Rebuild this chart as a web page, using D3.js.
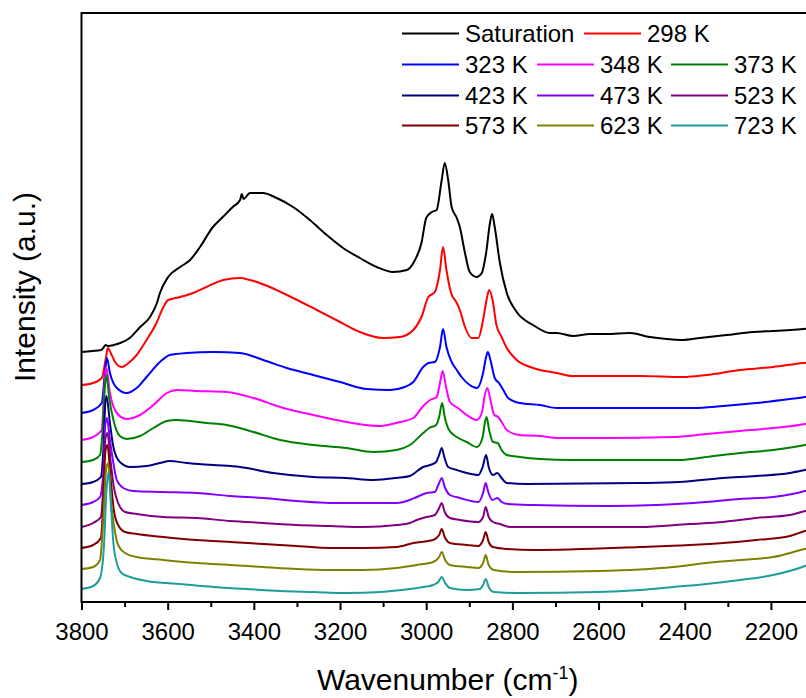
<!DOCTYPE html>
<html>
<head>
<meta charset="utf-8">
<script src="https://cdn.jsdelivr.net/npm/d3@7"></script>
<style>
  body { margin: 0; background: #fff; }
  svg { display: block; font-family: Arial, "Liberation Sans", sans-serif; }
</style>
</head>
<body>
<div id="chart"></div>
<script>
/** Tick labels of the wavenumber axis (cm-1) */
var wavenumberTicks = [3800, 3600, 3400, 3200, 3000, 2800, 2600, 2400, 2200];
var wavenumberMinorTicks = [3700, 3500, 3300, 3100, 2900, 2700, 2500, 2300, 2100];

/** Series labels, in plotting order */
var seriesNames = ["Saturation", "298 K", "323 K", "348 K", "373 K", "423 K",
                   "473 K", "523 K", "573 K", "623 K", "723 K"];

/** Spectra, [wavenumber, intensity (a.u., stacked)] */
var saturation = [[3800,2.50],[3775,2.51],[3755,2.52],[3748,2.55],[3744,2.57],[3738,2.56],[3725,2.57],
  [3710,2.59],[3688,2.64],[3664,2.75],[3641,2.85],[3625,2.99],[3618,3.09],[3599,3.25],[3571,3.35],
  [3548,3.42],[3525,3.55],[3495,3.75],[3472,3.85],[3449,3.95],[3432,4.02],[3428,4.08],[3424,4.03],
  [3409,4.09],[3394,4.09],[3379,4.09],[3347,4.04],[3309,3.95],[3270,3.82],[3231,3.67],[3193,3.54],
  [3154,3.44],[3115,3.35],[3077,3.30],[3045,3.32],[3026,3.42],[3011,3.59],[3000,3.84],[2987,3.90],
  [2976,3.92],[2964,4.22],[2957,4.39],[2949,4.22],[2941,3.95],[2929,3.84],[2922,3.75],[2910,3.49],
  [2899,3.30],[2883,3.25],[2871,3.29],[2861,3.49],[2852,3.79],[2847,3.88],[2841,3.75],[2829,3.39],
  [2813,3.09],[2790,2.90],[2752,2.77],[2713,2.69],[2697,2.69],[2659,2.66],[2620,2.68],[2581,2.68],
  [2527,2.69],[2481,2.65],[2442,2.63],[2404,2.62],[2365,2.64],[2303,2.67],[2241,2.70],[2195,2.71],
  [2125,2.73],[2100,2.74]];

var k298 = [[3800,2.17],[3773,2.19],[3753,2.24],[3743,2.45],[3739,2.54],[3730,2.47],[3722,2.40],
  [3707,2.35],[3691,2.39],[3672,2.47],[3649,2.62],[3626,2.79],[3610,2.95],[3599,3.02],[3571,3.05],
  [3541,3.09],[3510,3.15],[3471,3.22],[3432,3.24],[3409,3.22],[3363,3.15],[3309,3.04],[3254,2.92],
  [3200,2.80],[3154,2.70],[3100,2.64],[3061,2.65],[3030,2.72],[3011,2.85],[2995,3.05],[2980,3.10],
  [2968,3.32],[2961,3.55],[2953,3.32],[2943,3.10],[2929,2.99],[2922,2.92],[2910,2.75],[2895,2.64],
  [2879,2.64],[2868,2.82],[2860,3.02],[2854,3.12],[2846,3.02],[2837,2.77],[2825,2.65],[2813,2.54],
  [2790,2.42],[2752,2.34],[2697,2.29],[2659,2.26],[2504,2.26],[2404,2.25],[2350,2.27],[2272,2.32],
  [2195,2.35],[2125,2.39],[2100,2.40]];

var k323 = [[3800,1.89],[3773,1.92],[3753,1.99],[3745,2.32],[3741,2.44],[3734,2.29],[3718,2.14],
  [3695,2.09],[3672,2.14],[3649,2.25],[3618,2.40],[3595,2.47],[3556,2.49],[3494,2.50],[3432,2.49],
  [3378,2.42],[3324,2.34],[3262,2.27],[3200,2.20],[3138,2.13],[3084,2.12],[3050,2.15],[3030,2.20],
  [3007,2.35],[2995,2.39],[2980,2.40],[2968,2.55],[2961,2.73],[2953,2.55],[2941,2.40],[2929,2.32],
  [2918,2.25],[2899,2.17],[2882,2.14],[2868,2.29],[2861,2.45],[2857,2.50],[2851,2.42],[2841,2.24],
  [2831,2.19],[2821,2.12],[2810,2.04],[2783,1.99],[2736,1.97],[2697,1.94],[2581,1.94],[2381,1.94],
  [2311,1.96],[2234,1.99],[2156,2.03],[2121,2.05],[2100,2.07]];

var k348 = [[3800,1.62],[3773,1.65],[3753,1.72],[3748,2.05],[3743,2.35],[3734,2.09],[3718,1.89],
  [3695,1.83],[3664,1.87],[3633,1.97],[3602,2.09],[3579,2.12],[3533,2.11],[3463,2.10],[3401,2.04],
  [3339,1.95],[3262,1.87],[3185,1.80],[3107,1.76],[3061,1.80],[3030,1.84],[3007,1.96],[2991,2.02],
  [2976,2.05],[2968,2.19],[2962,2.31],[2954,2.15],[2945,2.00],[2926,1.94],[2906,1.87],[2883,1.82],
  [2871,1.89],[2864,2.07],[2858,2.14],[2851,2.02],[2842,1.87],[2833,1.85],[2825,1.80],[2813,1.72],
  [2783,1.67],[2736,1.66],[2690,1.64],[2581,1.64],[2427,1.65],[2350,1.68],[2272,1.71],[2195,1.74],
  [2121,1.78],[2100,1.80]];

var k373 = [[3800,1.40],[3773,1.42],[3757,1.47],[3751,1.72],[3745,2.19],[3742,2.27],[3736,2.05],
  [3726,1.82],[3711,1.66],[3695,1.63],[3664,1.66],[3633,1.74],[3602,1.81],[3579,1.82],[3510,1.79],
  [3463,1.77],[3401,1.70],[3339,1.62],[3262,1.57],[3185,1.54],[3123,1.50],[3069,1.52],[3038,1.57],
  [3007,1.69],[2993,1.74],[2977,1.77],[2970,1.85],[2963,1.99],[2957,1.85],[2947,1.72],[2929,1.65],
  [2906,1.60],[2882,1.55],[2869,1.65],[2864,1.79],[2860,1.85],[2854,1.72],[2845,1.60],[2834,1.59],
  [2825,1.52],[2813,1.47],[2783,1.45],[2736,1.43],[2659,1.42],[2413,1.42],[2350,1.45],[2272,1.49],
  [2195,1.52],[2121,1.57],[2100,1.59]];

var k423 = [[3800,1.18],[3773,1.20],[3755,1.25],[3749,1.55],[3745,1.97],[3742,2.06],[3734,1.79],
  [3726,1.55],[3711,1.40],[3687,1.35],[3649,1.36],[3618,1.39],[3595,1.41],[3556,1.39],[3494,1.37],
  [3432,1.35],[3355,1.29],[3262,1.25],[3185,1.24],[3123,1.22],[3069,1.24],[3038,1.26],[3007,1.35],
  [2991,1.37],[2977,1.40],[2970,1.47],[2964,1.54],[2958,1.45],[2949,1.35],[2929,1.32],[2906,1.29],
  [2879,1.27],[2869,1.35],[2861,1.47],[2855,1.35],[2845,1.27],[2835,1.29],[2825,1.24],[2813,1.19],
  [2767,1.18],[2504,1.19],[2413,1.20],[2311,1.24],[2234,1.26],[2156,1.29],[2121,1.32],[2100,1.34]];

var k473 = [[3800,0.97],[3773,1.00],[3757,1.05],[3749,1.32],[3745,1.77],[3741,1.84],[3734,1.62],
  [3726,1.39],[3718,1.22],[3703,1.14],[3680,1.11],[3610,1.10],[3533,1.09],[3455,1.06],[3378,1.04],
  [3301,1.01],[3223,0.99],[3146,0.99],[3069,0.99],[3038,1.02],[3022,1.05],[2999,1.09],[2980,1.10],
  [2970,1.19],[2964,1.24],[2957,1.15],[2945,1.07],[2922,1.04],[2879,1.00],[2868,1.09],[2862,1.19],
  [2856,1.10],[2846,1.02],[2835,1.04],[2825,1.00],[2810,0.98],[2752,0.97],[2581,0.96],[2466,0.97],
  [2350,1.00],[2272,1.03],[2195,1.05],[2121,1.11],[2100,1.14]];

var k523 = [[3800,0.75],[3773,0.79],[3755,0.85],[3749,1.19],[3745,1.62],[3740,1.69],[3732,1.39],
  [3725,1.15],[3715,0.99],[3699,0.90],[3672,0.88],[3610,0.85],[3533,0.84],[3455,0.81],[3378,0.79],
  [3301,0.77],[3223,0.76],[3146,0.75],[3069,0.77],[3038,0.79],[3022,0.82],[2999,0.85],[2980,0.87],
  [2970,0.94],[2964,0.99],[2957,0.90],[2945,0.84],[2922,0.82],[2879,0.80],[2868,0.85],[2862,0.95],
  [2855,0.85],[2845,0.80],[2829,0.78],[2806,0.75],[2752,0.75],[2504,0.75],[2389,0.78],[2311,0.80],
  [2234,0.84],[2156,0.87],[2121,0.91],[2100,0.93]];

var k573 = [[3800,0.54],[3773,0.57],[3755,0.64],[3749,1.05],[3745,1.49],[3740,1.57],[3732,1.22],
  [3725,0.92],[3715,0.77],[3699,0.70],[3672,0.68],[3610,0.65],[3533,0.62],[3455,0.60],[3378,0.58],
  [3301,0.56],[3223,0.54],[3146,0.54],[3069,0.55],[3030,0.59],[2984,0.62],[2970,0.67],[2964,0.73],
  [2957,0.65],[2945,0.59],[2906,0.57],[2879,0.56],[2868,0.62],[2862,0.70],[2855,0.60],[2845,0.55],
  [2813,0.53],[2752,0.52],[2504,0.55],[2389,0.57],[2311,0.59],[2234,0.62],[2156,0.66],[2121,0.71],
  [2100,0.73]];

var k623 = [[3800,0.33],[3773,0.35],[3757,0.42],[3749,0.85],[3743,1.32],[3738,1.39],[3731,0.99],
  [3723,0.72],[3715,0.57],[3699,0.49],[3672,0.45],[3610,0.42],[3533,0.39],[3455,0.37],[3378,0.35],
  [3301,0.33],[3223,0.32],[3146,0.32],[3069,0.34],[3022,0.37],[2984,0.40],[2970,0.45],[2964,0.50],
  [2956,0.42],[2945,0.37],[2906,0.35],[2879,0.34],[2868,0.39],[2862,0.47],[2855,0.37],[2843,0.32],
  [2790,0.30],[2600,0.31],[2427,0.35],[2350,0.39],[2272,0.42],[2195,0.45],[2121,0.53],[2100,0.55]];

var k723 = [[3800,0.13],[3773,0.16],[3757,0.24],[3748,0.55],[3742,1.12],[3737,1.30],[3731,0.92],
  [3726,0.59],[3718,0.39],[3707,0.29],[3687,0.25],[3649,0.21],[3571,0.18],[3494,0.15],[3417,0.13],
  [3339,0.11],[3262,0.10],[3185,0.09],[3107,0.10],[3038,0.13],[3000,0.155],[2984,0.17],[2972,0.20],
  [2964,0.25],[2956,0.19],[2945,0.14],[2906,0.12],[2875,0.13],[2868,0.17],[2862,0.23],[2855,0.15],
  [2843,0.10],[2790,0.09],[2600,0.10],[2504,0.12],[2427,0.15],[2350,0.18],[2272,0.22],[2195,0.27],
  [2121,0.36],[2100,0.40]];

var seriesValues = [saturation, k298, k323, k348, k373, k423, k473, k523, k573, k623, k723];

/** Line colours, same order as seriesNames */
var seriesColors = ["#000000", "#ff0000", "#0000ff", "#ff00ff", "#008000", "#000080",
                    "#8000ff", "#800080", "#800000", "#808000", "#1f9c9c"];

/** Legend rows, as indexes into seriesNames */
var legendRows = [[0, 1], [2, 3, 4], [5, 6, 7], [8, 9, 10]];

/**
 * @constructor
 * @param {String} HTMLelement Id of the element to build the chart in.
 */
var spectraChart = function(HTMLelement)
{
  this.parentElement = HTMLelement;
  this.width = 806;
  this.height = 698;
  /** Plot frame; right side runs past the picture edge */
  this.frame = {left: 81.5, top: 13, right: 814, bottom: 602};
  this.svg = this.x = this.y = undefined;
}

/**
 * @desc Creates svg and scales.
 */
spectraChart.prototype.create = function()
{
  this.svg = d3.select("#" + this.parentElement)
    .append("svg")
    .attr("width", this.width)
    .attr("height", this.height);
  this.x = d3.scaleLinear().domain([3800, 2100]).range([this.frame.left, this.frame.right]);
  this.y = d3.scaleLinear().domain([0, 5.89]).range([this.frame.bottom, this.frame.top]);
}

/**
 * @desc Draws frame, bottom axis and axis titles.
 */
spectraChart.prototype.drawAxes = function()
{
  var f = this.frame;
  this.svg.append("rect")
    .attr("x", f.left).attr("y", f.top)
    .attr("width", f.right - f.left).attr("height", f.bottom - f.top)
    .attr("fill", "none").attr("stroke", "#000").attr("stroke-width", 2);

  /** minor ticks */
  this.svg.append("g")
    .attr("transform", "translate(0," + f.bottom + ")")
    .call(d3.axisBottom(this.x).tickValues(wavenumberMinorTicks).tickSize(5).tickFormat(""))
    .call(function(g) { g.select(".domain").remove(); })
    .selectAll("line").attr("stroke-width", 2);

  /** major ticks with labels */
  var ax = this.svg.append("g")
    .attr("transform", "translate(0," + f.bottom + ")")
    .call(d3.axisBottom(this.x).tickValues(wavenumberTicks).tickSize(8).tickPadding(13)
      .tickFormat(function(d) { return d; }));
  ax.select(".domain").remove();
  ax.selectAll("line").attr("stroke-width", 2);
  ax.selectAll("text")
    .attr("font-size", 24)
    .attr("font-family", "Arial, 'Liberation Sans', sans-serif")
    .attr("fill", "#000");

  /** x title with superscript */
  var xt = this.svg.append("text")
    .attr("x", (f.left + f.right) / 2)
    .attr("y", 690)
    .attr("text-anchor", "middle")
    .attr("font-size", 30);
  xt.append("tspan").text("Wavenumber (cm");
  xt.append("tspan").attr("font-size", 18).attr("dy", -11).text("-1");
  xt.append("tspan").attr("dy", 11).text(")");

  this.svg.append("text")
    .attr("transform", "rotate(-90)")
    .attr("x", -287)
    .attr("y", 35)
    .attr("text-anchor", "middle")
    .attr("font-size", 30)
    .text("Intensity (a.u.)");
}

/**
 * @desc Draws all spectra.
 */
spectraChart.prototype.drawSpectra = function()
{
  var chart = this;
  var line = d3.line()
    .x(function(d) { return chart.x(d[0]); })
    .y(function(d) { return chart.y(d[1]); })
    .curve(d3.curveMonotoneX);

  this.svg.append("defs").append("clipPath").attr("id", "plotClip")
    .append("rect")
    .attr("x", this.frame.left).attr("y", this.frame.top)
    .attr("width", this.frame.right - this.frame.left)
    .attr("height", this.frame.bottom - this.frame.top);

  this.svg.append("g")
    .attr("clip-path", "url(#plotClip)")
    .selectAll("path")
    .data(seriesValues)
    .enter().append("path")
      .attr("d", line)
      .attr("fill", "none")
      .attr("stroke", function(d, i) { return seriesColors[i]; })
      .attr("stroke-width", 2)
      .attr("stroke-linejoin", "round");
}

/**
 * @desc Draws the legend, Origin style.
 */
spectraChart.prototype.drawLegend = function()
{
  var baselines = [42, 73, 104, 134];
  /** first row second column sits further right */
  var columnStarts = [[402, 584], [402, 537, 671], [402, 537, 671], [402, 537, 671]];
  var g = this.svg.append("g");
  for(var r = 0; r < legendRows.length; r++)
  {
    for(var c = 0; c < legendRows[r].length; c++)
    {
      var idx = legendRows[r][c];
      var x0 = columnStarts[r][c];
      g.append("line")
        .attr("x1", x0).attr("x2", x0 + 57)
        .attr("y1", baselines[r] - 8.5).attr("y2", baselines[r] - 8.5)
        .attr("stroke", seriesColors[idx]).attr("stroke-width", 2);
      g.append("text")
        .attr("x", x0 + 63).attr("y", baselines[r])
        .attr("font-size", 24)
        .text(seriesNames[idx]);
    }
  }
}

var chart = new spectraChart("chart");
chart.create();
chart.drawSpectra();
chart.drawAxes();
chart.drawLegend();
</script>
</body>
</html>
